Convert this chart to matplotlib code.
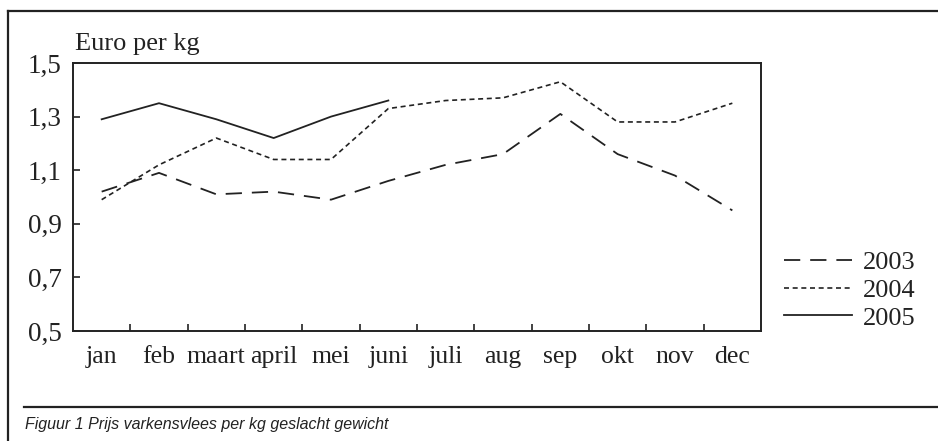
import matplotlib
matplotlib.use("Agg")
import matplotlib.pyplot as plt
from matplotlib.lines import Line2D

plt.rcParams['font.family'] = ['Liberation Serif', 'DejaVu Serif']

# data (euro per kg)
months = ['jan', 'feb', 'maart', 'april', 'mei', 'juni',
          'juli', 'aug', 'sep', 'okt', 'nov', 'dec']
p2003 = [1.02, 1.09, 1.01, 1.02, 0.99, 1.06, 1.12, 1.16, 1.31, 1.16, 1.08, 0.95]
p2004 = [0.99, 1.12, 1.22, 1.14, 1.14, 1.33, 1.36, 1.37, 1.43, 1.28, 1.28, 1.35]
p2005 = [1.29, 1.35, 1.29, 1.22, 1.30, 1.36]
yticks = [0.5, 0.7, 0.9, 1.1, 1.3, 1.5]

fig = plt.figure(figsize=(9.38, 4.41), dpi=100)
ax = fig.add_axes([73/938, 110/441, 688/938, 268/441])

col = '#222222'
x = list(range(len(months)))
l1, = ax.plot(x, p2003, color=col, lw=1.3, dashes=(9, 5.5), label='2003')
l2, = ax.plot(x, p2004, color=col, lw=1.2, dashes=(3, 2.2), label='2004')
l3, = ax.plot(x[:len(p2005)], p2005, color=col, lw=1.3, label='2005')

ax.set_xlim(-0.5, 11.5)
ax.set_ylim(0.5, 1.5)
ax.set_yticks(yticks)
ax.set_yticklabels([f"{v:.1f}".replace('.', ',') for v in yticks])

# ticks between months, labels centred on months
ax.set_xticks([i + 0.5 for i in range(len(months) - 1)])
ax.set_xticklabels([])
ax.set_xticks(x, minor=True)
ax.set_xticklabels(months, minor=True)
ax.tick_params(axis='x', which='major', direction='in', length=5, width=1.2, color=col)
ax.tick_params(axis='x', which='minor', length=0, pad=10.5, labelsize=18.5, labelcolor=col)
ax.tick_params(axis='y', direction='in', length=5, width=1.2, pad=8,
               labelsize=19.5, labelcolor=col, color=col)
for s in ax.spines.values():
    s.set_linewidth(1.4)
    s.set_color(col)

fig.text(75/938, 1 - 44/441, 'Euro per kg', fontsize=19, color=col, va='center', ha='left')

leg = fig.legend(handles=[l1, l2, l3], loc='center left',
                 bbox_to_anchor=(773/938, 1 - 290/441), frameon=False,
                 fontsize=19, handlelength=2.6, handletextpad=0.4,
                 labelspacing=0.17, borderaxespad=0)
for t in leg.get_texts():
    t.set_color(col)

# frame and caption
fig.add_artist(Line2D([8/938, 8/938], [0, 1 - 11/441], transform=fig.transFigure,
                      color=col, lw=1.6))
fig.add_artist(Line2D([8/938, 1], [1 - 11/441, 1 - 11/441], transform=fig.transFigure,
                      color=col, lw=1.6))
fig.add_artist(Line2D([24/938, 1], [1 - 407/441, 1 - 407/441], transform=fig.transFigure,
                      color=col, lw=1.6))
fig.text(25/938, 1 - 424/441, 'Figuur 1 Prijs varkensvlees per kg geslacht gewicht',
         family=['Liberation Sans Narrow', 'Liberation Sans'], style='italic',
         fontsize=11.5, color=col, va='center', ha='left')

fig.savefig('out.png', dpi=100)
